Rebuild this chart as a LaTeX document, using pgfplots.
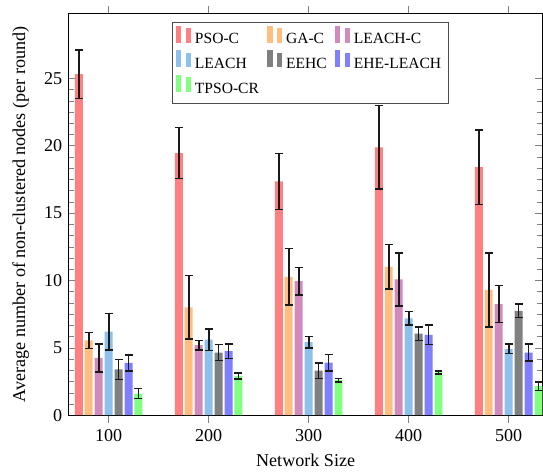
\documentclass[border=0pt]{standalone}
\usepackage{pgfplots}
\pgfplotsset{compat=1.18}
\usepackage{pgfplotstable}
\usepackage{fontspec}
\setmainfont{Liberation Serif}
\definecolor{cpso}{RGB}{255,128,128}
\definecolor{cga}{RGB}{255,190,128}
\definecolor{cleachc}{RGB}{208,138,188}
\definecolor{cleach}{RGB}{142,192,236}
\definecolor{ceehc}{RGB}{128,128,128}
\definecolor{cehe}{RGB}{128,128,255}
\definecolor{ctpso}{RGB}{128,255,128}
\pgfplotstableread{
x   psoc psoce gac  gace leachc leachce leach leache eehc eehce ehe  ehee tpso tpsoe
100 25.3 1.8   5.55 0.6  4.25   1.05    6.2   1.35   3.4  0.75  3.88 0.6  1.6  0.37
200 19.45 1.9  8.0  2.35 5.2    0.35    5.6   0.8    4.65 0.6   4.75 0.55 2.92 0.22
300 17.35 2.08 10.27 2.1 9.95   1.03    5.42  0.43   3.3  0.58  3.9  0.62 2.6  0.12
400 19.87 3.1  11.0 1.65 10.07  1.98    7.18  0.5    6.06 0.5   5.96 0.72 3.17 0.12
500 18.4 2.75  9.3  2.75 8.24   1.37    4.92  0.35   7.74 0.5   4.65 0.62 2.15 0.3
}\datatable
\begin{document}
\begin{tikzpicture}
\begin{axis}[
  scale only axis,
  width=262pt, height=222pt,
  ybar=1.1pt, bar width=4.4pt,
  xmin=60, xmax=534,
  ymin=0, ymax=29.8,
  xtick={100,200,300,400,500},
  ytick={0,5,10,15,20,25},
  minor y tick num=5,
  /pgf/number format/assume math mode=true,
  tick label style={font=\fontsize{10}{12}\selectfont},
  label style={font=\fontsize{10}{12}\selectfont},
  xlabel={Network Size},
  ylabel={Average number of non-clustered nodes (per round)},
  ylabel shift=1.5pt,
  legend columns=3,
  legend cell align=left,
  legend image code/.code={
    \fill[#1] (0pt,-0.15em) rectangle (3pt,0.8em);
    \fill[#1] (5.5pt,-0.15em) rectangle (8.5pt,0.65em);
  },
  legend style={at={(0.51,0.98)}, anchor=north, font=\fontsize{8.6}{11}\selectfont,
    draw=black!70, inner xsep=2pt, /tikz/every even column/.append style={column sep=2.5pt}},
  every axis plot/.append style={draw=none},
  error bars/error bar style={black!90, line width=1pt},
  error bars/error mark options={black!90, rotate=90, mark size=2.2pt, line width=0.8pt},
]
\addplot[fill=cpso, error bars/.cd, y dir=both, y explicit] table[x=x, y=psoc, y error=psoce]{\datatable};
\addplot[fill=cga, error bars/.cd, y dir=both, y explicit] table[x=x, y=gac, y error=gace]{\datatable};
\addplot[fill=cleachc, error bars/.cd, y dir=both, y explicit] table[x=x, y=leachc, y error=leachce]{\datatable};
\addplot[fill=cleach, error bars/.cd, y dir=both, y explicit] table[x=x, y=leach, y error=leache]{\datatable};
\addplot[fill=ceehc, error bars/.cd, y dir=both, y explicit] table[x=x, y=eehc, y error=eehce]{\datatable};
\addplot[fill=cehe, error bars/.cd, y dir=both, y explicit] table[x=x, y=ehe, y error=ehee]{\datatable};
\addplot[fill=ctpso, error bars/.cd, y dir=both, y explicit] table[x=x, y=tpso, y error=tpsoe]{\datatable};
\legend{PSO-C, GA-C, LEACH-C, LEACH, EEHC, EHE-LEACH, TPSO-CR}
\coordinate (tp) at (rel axis cs:1,1);
\end{axis}
\path (tp) ++(0,7.5pt);
\path (current bounding box.west) ++(-3.5pt,0);
\end{tikzpicture}
\end{document}
